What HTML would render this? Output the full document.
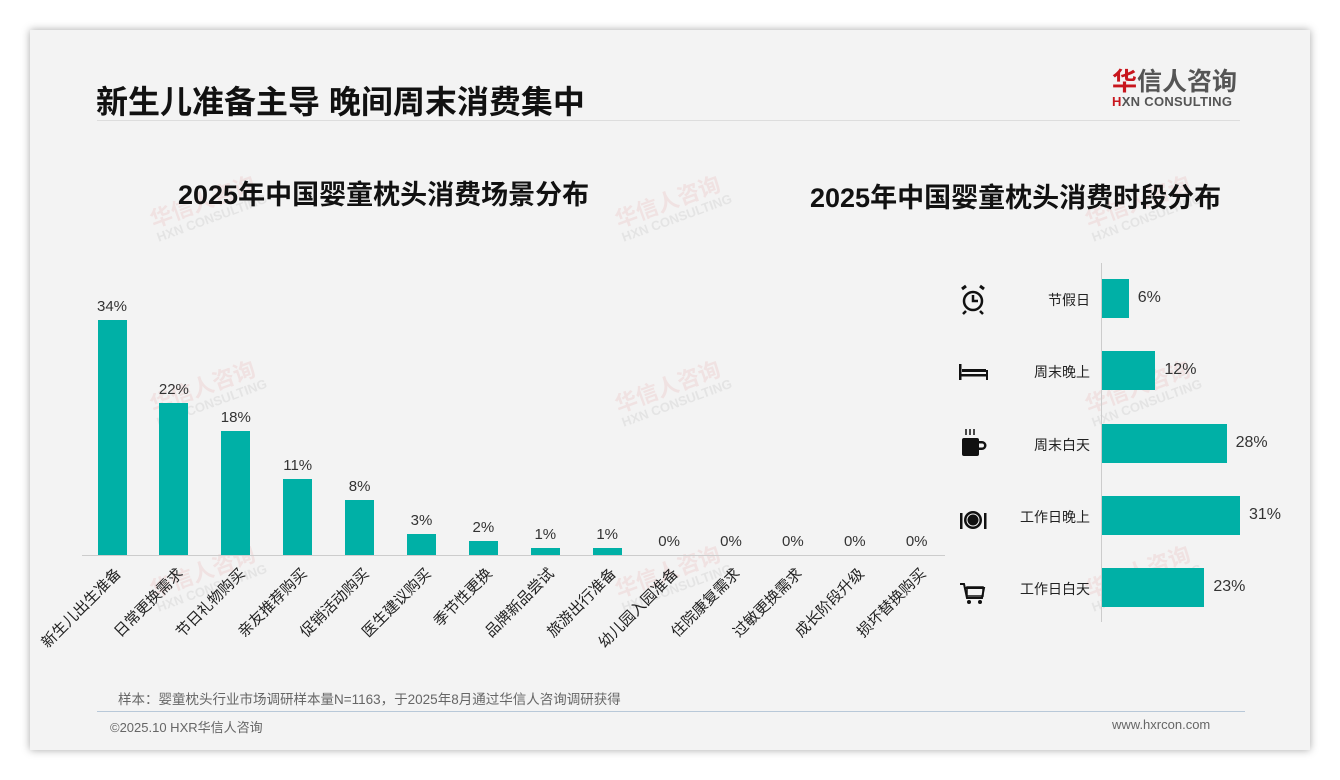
<!DOCTYPE html>
<html><head><meta charset="utf-8"><style>
*{margin:0;padding:0;box-sizing:border-box}
body{width:1340px;height:780px;background:#fff;font-family:"Liberation Sans","Noto Sans CJK SC",sans-serif;position:relative;overflow:hidden}
.card{position:absolute;left:30px;top:30px;width:1280px;height:720px;background:#f3f3f3;box-shadow:0 0 8px rgba(0,0,0,.35)}
.a{position:absolute;white-space:nowrap}
.bar{position:absolute;background:#00b0a6}
.v{position:absolute;font-size:15px;color:#333;width:60px;text-align:center}
.lab{position:absolute;font-size:15px;color:#222;transform-origin:right center;transform:rotate(-45deg);text-align:right;width:140px}
.wm{position:absolute;color:rgba(220,80,80,.1);font-weight:bold;transform:rotate(-20deg);font-size:22px;line-height:1}
.wm small{display:block;font-size:13px;color:rgba(120,120,120,.12)}
.rl{position:absolute;font-size:14px;color:#222;text-align:right;width:100px}
.rv{position:absolute;font-size:16px;color:#333}
</style></head><body>
<div class="card"></div>
<div class="a" style="left:96px;top:77px;font-size:32px;font-weight:bold;color:#111">新生儿准备主导 晚间周末消费集中</div>
<div class="a" style="left:97px;top:120px;width:1143px;height:1px;background:#ddd"></div>
<div class="a" style="left:1112px;top:62px;font-size:25px;font-weight:bold;color:#555"><span style="color:#c8161d">华</span>信人咨询</div>
<div class="a" style="left:1112px;top:94px;font-size:13px;font-weight:bold;color:#555;letter-spacing:.3px"><span style="color:#c8161d">H</span>XN CONSULTING</div>

<div class="wm" style="left:150px;top:190px">华信人咨询<small>HXN CONSULTING</small></div>
<div class="wm" style="left:615px;top:190px">华信人咨询<small>HXN CONSULTING</small></div>
<div class="wm" style="left:1085px;top:190px">华信人咨询<small>HXN CONSULTING</small></div>
<div class="wm" style="left:150px;top:375px">华信人咨询<small>HXN CONSULTING</small></div>
<div class="wm" style="left:615px;top:375px">华信人咨询<small>HXN CONSULTING</small></div>
<div class="wm" style="left:1085px;top:375px">华信人咨询<small>HXN CONSULTING</small></div>
<div class="wm" style="left:150px;top:560px">华信人咨询<small>HXN CONSULTING</small></div>
<div class="wm" style="left:615px;top:560px">华信人咨询<small>HXN CONSULTING</small></div>
<div class="wm" style="left:1085px;top:560px">华信人咨询<small>HXN CONSULTING</small></div>

<div class="a" style="left:178px;top:173px;font-size:27px;font-weight:bold;color:#111">2025年中国婴童枕头消费场景分布</div>
<div class="a" style="left:810px;top:176px;font-size:27px;font-weight:bold;color:#111">2025年中国婴童枕头消费时段分布</div>

<div class="a" style="left:82px;top:555px;width:863px;height:1px;background:#ccc"></div>
<div id="L"></div>

<div class="a" style="left:1101px;top:263px;width:1px;height:359px;background:#ccc"></div>
<div id="R"></div>

<svg class="a" style="left:958px;top:284px" width="30" height="330" viewBox="0 0 30 330">
<g fill="none" stroke="#111" stroke-width="2.5">
<circle cx="15" cy="17" r="9"/><path d="M15 11v6h5M8 27l-3 3M22 27l3 3"/>
<path d="M4 5l4-3M26 5l-4-3" stroke-width="3"/>
</g>
<g fill="#111">
<rect x="1" y="80" width="2.5" height="16"/><rect x="28" y="86" width="2.5" height="10"/><rect x="1" y="90" width="29" height="2.5"/><rect x="4" y="85" width="24" height="3"/>
<rect x="4" y="154" width="17" height="18" rx="2"/><path d="M21 157h3a4 4 0 0 1 0 9h-3v-2.5h3a1.8 1.8 0 0 0 0-4h-3z"/>
<path d="M8 145v6M12 145v6M16 145v6" stroke="#111" stroke-width="1.5"/>
<circle cx="15" cy="236" r="9"/><circle cx="15" cy="236" r="6.5" fill="#f3f3f3"/><circle cx="15" cy="236" r="5.5"/>
<rect x="2" y="229" width="2.5" height="16"/><rect x="26" y="229" width="2.5" height="16"/>
<path d="M2 300h4l3 14h15l2-10H7" fill="none" stroke="#111" stroke-width="2"/>
<rect x="9" y="303" width="16" height="9" fill="none" stroke="#111" stroke-width="1.5"/>
<circle cx="11" cy="318" r="2"/><circle cx="22" cy="318" r="2"/>
</g></svg>

<div class="a" style="left:118px;top:688px;font-size:13.5px;color:#666">样本：婴童枕头行业市场调研样本量N=1163，于2025年8月通过华信人咨询调研获得</div>
<div class="a" style="left:97px;top:711px;width:1148px;height:1px;background:#b8c8d8"></div>
<div class="a" style="left:110px;top:717px;font-size:13px;color:#666">©2025.10 HXR华信人咨询</div>
<div class="a" style="left:1112px;top:717px;font-size:13px;color:#666">www.hxrcon.com</div>

<script>
var L=[["新生儿出生准备",34],["日常更换需求",22],["节日礼物购买",18],["亲友推荐购买",11],["促销活动购买",8],["医生建议购买",3],["季节性更换",2],["品牌新品尝试",1],["旅游出行准备",1],["幼儿园入园准备",0],["住院康复需求",0],["过敏更换需求",0],["成长阶段升级",0],["损坏替换购买",0]];
var h="";
L.forEach(function(d,i){var c=112+i*61.9,ht=d[1]*6.91;
h+='<div class="bar" style="left:'+(c-14.5)+'px;top:'+(555-ht)+'px;width:29px;height:'+ht+'px"></div>';
h+='<div class="v" style="left:'+(c-30)+'px;top:'+(555-ht-22)+'px">'+d[1]+'%</div>';
h+='<div class="lab" style="left:'+(c-140+6)+'px;top:'+(560)+'px">'+d[0]+'</div>';});
document.getElementById("L").innerHTML=h;
var R=[["节假日",6],["周末晚上",12],["周末白天",28],["工作日晚上",31],["工作日白天",23]];
h="";
R.forEach(function(d,i){var t=279+i*72.3,w=d[1]*4.45;
h+='<div class="bar" style="left:1102px;top:'+t+'px;width:'+w+'px;height:39px"></div>';
h+='<div class="rv" style="left:'+(1102+w+9)+'px;top:'+(t+10)+'px">'+d[1]+'%</div>';
h+='<div class="rl" style="left:990px;top:'+(t+11)+'px">'+d[0]+'</div>';});
document.getElementById("R").innerHTML=h;
</script>
</body></html>
